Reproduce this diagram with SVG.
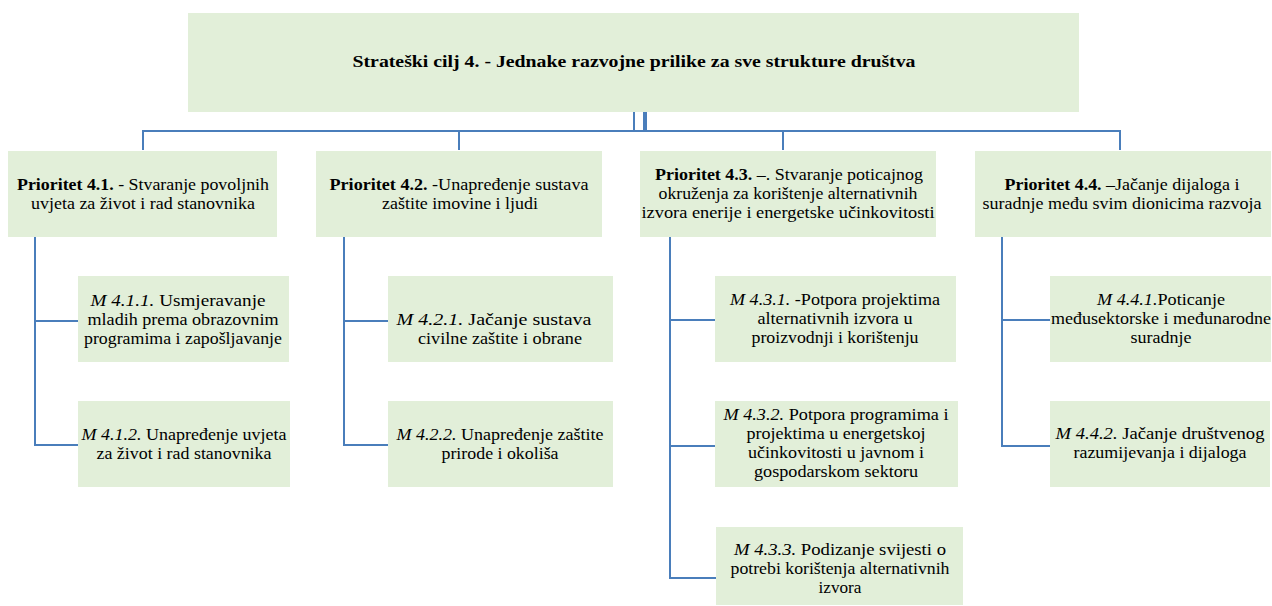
<svg xmlns="http://www.w3.org/2000/svg" width="1272" height="606" viewBox="0 0 1272 606">
<style>
.box{fill:#e2efd9;stroke:none}
.c{fill:none;stroke:#4a7ebb;stroke-width:2}
text{font-family:"Liberation Serif","DejaVu Serif",serif;font-size:17px;fill:#000;text-anchor:middle}
.b{font-weight:bold}
.i{font-style:italic}
</style>
<rect width="1272" height="606" fill="#fff"/>
<g id="connectors">
<path class="c" d="M634 112V131M644 112V131M646 112V131"/>
<path class="c" d="M143 150V131H1120V150M459 131V150M783 131V150"/>
<path class="c" d="M35 237V445H78M35 321H78"/>
<path class="c" d="M344 237V445H388M344 321H388"/>
<path class="c" d="M670 237V578H716M670 320H715M670 446H715"/>
<path class="c" d="M1002 237V446H1050M1002 320H1050"/>
</g>
<g id="goal">
<rect class="box" x="188" y="13" width="891" height="99"/>
<text class="b" x="634" y="67" textLength="563" lengthAdjust="spacingAndGlyphs">Strateški cilj 4. - Jednake razvojne prilike za sve strukture društva</text>
</g>
<g id="p41">
<rect class="box" x="8" y="151" width="269" height="86"/>
<text x="143" y="190" textLength="252" lengthAdjust="spacingAndGlyphs"><tspan class="b">Prioritet 4.1.</tspan> - Stvaranje povoljnih</text>
<text x="143" y="209" textLength="224" lengthAdjust="spacingAndGlyphs">uvjeta za život i rad stanovnika</text>
</g>
<g id="p42">
<rect class="box" x="316" y="151" width="286" height="86"/>
<text x="459" y="190" textLength="259" lengthAdjust="spacingAndGlyphs"><tspan class="b">Prioritet 4.2.</tspan> -Unapređenje sustava</text>
<text x="460" y="209" textLength="156" lengthAdjust="spacingAndGlyphs">zaštite imovine i ljudi</text>
</g>
<g id="p43">
<rect class="box" x="640" y="151" width="296" height="86"/>
<text x="789" y="180" textLength="268" lengthAdjust="spacingAndGlyphs"><tspan class="b">Prioritet 4.3.</tspan> –. Stvaranje poticajnog</text>
<text x="788" y="199" textLength="259" lengthAdjust="spacingAndGlyphs">okruženja za korištenje alternativnih</text>
<text x="788" y="218" textLength="293" lengthAdjust="spacingAndGlyphs">izvora enerije i energetske učinkovitosti</text>
</g>
<g id="p44">
<rect class="box" x="975" y="151" width="296" height="86"/>
<text x="1122" y="190" textLength="235" lengthAdjust="spacingAndGlyphs"><tspan class="b">Prioritet 4.4.</tspan> –Jačanje dijaloga i</text>
<text x="1122" y="209" textLength="279" lengthAdjust="spacingAndGlyphs">suradnje među svim dionicima razvoja</text>
</g>
<g id="m411">
<rect class="box" x="78" y="276" width="211" height="86"/>
<text x="178" y="306" textLength="175" lengthAdjust="spacingAndGlyphs"><tspan class="i">M 4.1.1.</tspan> Usmjeravanje</text>
<text x="183" y="325" textLength="191" lengthAdjust="spacingAndGlyphs">mladih prema obrazovnim</text>
<text x="183" y="344" textLength="198" lengthAdjust="spacingAndGlyphs">programima i zapošljavanje</text>
</g>
<g id="m412">
<rect class="box" x="78" y="401" width="212" height="86"/>
<text x="184" y="440" textLength="205" lengthAdjust="spacingAndGlyphs"><tspan class="i">M 4.1.2.</tspan> Unapređenje uvjeta</text>
<text x="184" y="459" textLength="175" lengthAdjust="spacingAndGlyphs">za život i rad stanovnika</text>
</g>
<g id="m421">
<rect class="box" x="388" y="276" width="225" height="86"/>
<text x="494" y="325" textLength="195" lengthAdjust="spacingAndGlyphs"><tspan class="i">M 4.2.1.</tspan> Jačanje sustava</text>
<text x="500" y="344" textLength="164" lengthAdjust="spacingAndGlyphs">civilne zaštite i obrane</text>
</g>
<g id="m422">
<rect class="box" x="388" y="401" width="225" height="86"/>
<text x="500" y="440" textLength="207" lengthAdjust="spacingAndGlyphs"><tspan class="i">M 4.2.2.</tspan> Unapređenje zaštite</text>
<text x="500" y="459" textLength="117" lengthAdjust="spacingAndGlyphs">prirode i okoliša</text>
</g>
<g id="m431">
<rect class="box" x="715" y="276" width="241" height="86"/>
<text x="835" y="305" textLength="210" lengthAdjust="spacingAndGlyphs"><tspan class="i">M 4.3.1.</tspan> -Potpora projektima</text>
<text x="835" y="324" textLength="155" lengthAdjust="spacingAndGlyphs">alternativnih izvora u</text>
<text x="835" y="343" textLength="167" lengthAdjust="spacingAndGlyphs">proizvodnji i korištenju</text>
</g>
<g id="m432">
<rect class="box" x="715" y="401" width="243" height="86"/>
<text x="836" y="420" textLength="225" lengthAdjust="spacingAndGlyphs"><tspan class="i">M 4.3.2.</tspan> Potpora programima i</text>
<text x="836" y="439" textLength="179" lengthAdjust="spacingAndGlyphs">projektima u energetskoj</text>
<text x="836" y="458" textLength="176" lengthAdjust="spacingAndGlyphs">učinkovitosti u javnom i</text>
<text x="836" y="477" textLength="164" lengthAdjust="spacingAndGlyphs">gospodarskom sektoru</text>
</g>
<g id="m433">
<rect class="box" x="716" y="527" width="247" height="78"/>
<text x="840" y="555" textLength="212" lengthAdjust="spacingAndGlyphs"><tspan class="i">M 4.3.3.</tspan> Podizanje svijesti o</text>
<text x="840" y="574" textLength="219" lengthAdjust="spacingAndGlyphs">potrebi korištenja alternativnih</text>
<text x="840" y="593" textLength="43" lengthAdjust="spacingAndGlyphs">izvora</text>
</g>
<g id="m441">
<rect class="box" x="1050" y="276" width="221" height="86"/>
<text x="1161" y="305" textLength="128" lengthAdjust="spacingAndGlyphs"><tspan class="i">M 4.4.1.</tspan>Poticanje</text>
<text x="1161" y="324" textLength="220" lengthAdjust="spacingAndGlyphs">međusektorske i međunarodne</text>
<text x="1161" y="343" textLength="61" lengthAdjust="spacingAndGlyphs">suradnje</text>
</g>
<g id="m442">
<rect class="box" x="1050" y="401" width="220" height="86"/>
<text x="1160" y="439" textLength="209" lengthAdjust="spacingAndGlyphs"><tspan class="i">M 4.4.2.</tspan> Jačanje društvenog</text>
<text x="1160" y="458" textLength="173" lengthAdjust="spacingAndGlyphs">razumijevanja i dijaloga</text>
</g>
</svg>
